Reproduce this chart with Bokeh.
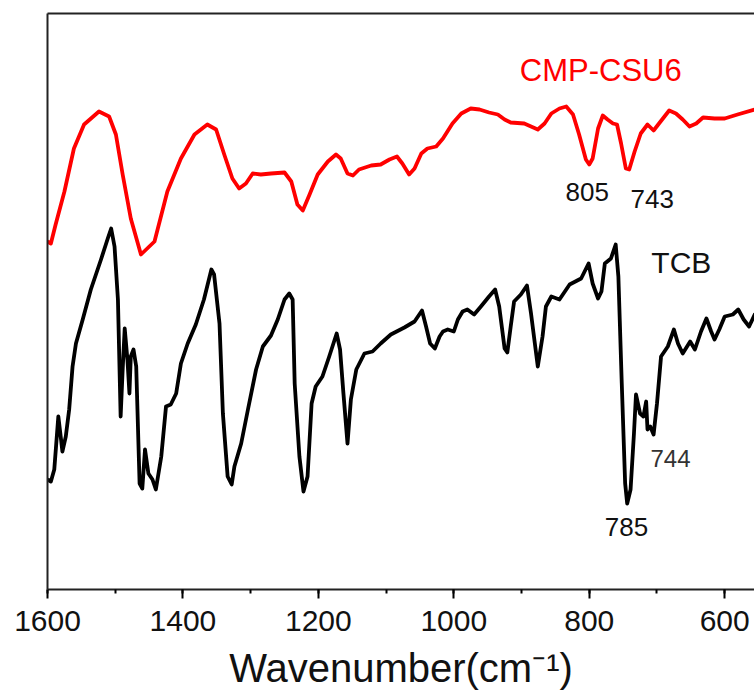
from bokeh.plotting import figure
from bokeh.models import Range1d, LinearAxis, SingleIntervalTicker, FixedTicker, Label
from bokeh.embed import file_html
from bokeh.resources import INLINE

# CMP-CSU6 spectrum (wavenumber, transmittance a.u.)
red_wn = [1600, 1595, 1588, 1575, 1561, 1546, 1524, 1509, 1499, 1489, 1477, 1462, 1442, 1423, 1403,
          1383, 1364, 1351, 1339, 1327, 1317, 1307, 1297, 1285, 1270, 1250, 1240, 1231, 1223, 1213,
          1201, 1186, 1174, 1167, 1157, 1149, 1140, 1122, 1108, 1095, 1084, 1076, 1066, 1058, 1048,
          1039, 1026, 1016, 1002, 989, 975, 962, 948, 935, 925, 916, 896, 886, 876, 866, 856, 844,
          834, 824, 815, 805, 800, 795, 787, 780, 773, 765, 759, 753, 746, 741, 733, 724, 714, 705,
          697, 682, 672, 662, 652, 642, 632, 615, 600, 581, 556]
red_t = [348, 346, 365, 398, 441, 465, 478, 473, 455, 415, 371, 335, 348, 398, 431,
         455, 465, 460, 435, 411, 401, 406, 416, 415, 416, 417, 408, 385, 379, 395,
         415, 428, 435, 431, 416, 414, 420, 424, 425, 430, 433, 426, 415, 421, 436,
         441, 443, 451, 466, 476, 481, 480, 477, 475, 470, 467, 466, 463, 460, 466, 476, 481,
         483, 475, 455, 430, 425, 431, 461, 474, 470, 466, 465, 446, 421, 420, 438, 456, 465, 459,
         466, 479, 476, 470, 463, 466, 472, 471, 471, 475, 480]

# TCB spectrum
tcb_wn = [1600, 1595, 1590, 1584, 1580, 1578, 1573, 1568, 1563, 1558, 1548, 1536, 1521, 1511, 1506,
          1501, 1496, 1492, 1489, 1486, 1482, 1479, 1477, 1473, 1469, 1464, 1460, 1456, 1451, 1445,
          1440, 1432, 1425, 1418, 1410, 1403, 1393, 1381, 1369, 1358, 1354, 1346, 1341, 1334, 1328,
          1324, 1314, 1304, 1292, 1282, 1270, 1260, 1250, 1243, 1238, 1235, 1228, 1222, 1216, 1210,
          1204, 1194, 1184, 1173, 1168, 1163, 1157, 1152, 1144, 1132, 1120, 1108, 1093, 1073, 1058,
          1047, 1041, 1035, 1028, 1021, 1016, 1009, 1000, 994, 987, 980, 970, 960, 948, 939,
          933, 925, 921, 916, 911, 901, 892, 886, 876, 869, 864, 856, 844, 829, 812,
          801, 795, 787, 782, 777, 768, 761, 757, 752, 747, 744, 739, 734, 731, 725,
          720, 716, 714, 710, 705, 700, 694, 684, 675, 669, 662, 651, 644, 635, 627,
          620, 615, 608, 600, 588, 580, 572, 564, 555]
tcb_t = [110, 108, 120, 173, 150, 138, 153, 180, 223, 246, 270, 300, 330, 351, 361,
         343, 290, 173, 220, 261, 230, 196, 233, 240, 223, 106, 101, 140, 116, 110,
         100, 133, 183, 185, 196, 226, 246, 265, 290, 320, 315, 266, 176, 113, 105,
         123, 146, 180, 220, 243, 254, 270, 290, 296, 290, 206, 133, 98, 113, 186,
         203, 213, 233, 256, 240, 196, 146, 190, 220, 236, 238, 246, 255, 262, 268,
         279, 263, 246, 241, 253, 258, 260, 258, 270, 278, 280, 275, 283, 293, 300,
         283, 241, 237, 263, 288, 295, 304, 276, 223, 253, 283, 293, 290, 305, 311,
         326, 306, 291, 298, 326, 331, 345, 313, 206, 106, 86, 100, 156, 195, 176,
         173, 188, 160, 163, 155, 186, 233, 243, 260, 246, 236, 248, 240, 258, 271,
         258, 250, 260, 273, 275, 280, 270, 263, 276]

# annotations: text, wavenumber, a.u.
annotations = [
    ("CMP-CSU6", 783, 519, "#ff0000", "31px"),
    ("805", 803, 398, "#111111", "26px"),
    ("743", 707, 391, "#111111", "26px"),
    ("TCB", 664, 327, "#111111", "30px"),
    ("744", 680, 131, "#333333", "24px"),
    ("785", 745, 63, "#111111", "26px"),
]

FONT = "Liberation Sans"

p = figure(frame_width=707, frame_height=576, output_backend="svg", toolbar_location=None,
           x_range=Range1d(1600, 556), y_range=Range1d(0, 576),
           min_border_left=47, min_border_right=0, min_border_top=13, min_border_bottom=0)
p.background_fill_color = "white"
p.border_fill_color = "white"
p.outline_line_color = None
p.xgrid.visible = False
p.ygrid.visible = False

p.line(red_wn, red_t, line_color="#ff0000", line_width=3.8, line_join="round")
p.line(tcb_wn, tcb_t, line_color="black", line_width=3.8, line_join="round")

xa = p.xaxis[0]
xa.ticker = SingleIntervalTicker(interval=200, num_minor_ticks=2)
xa.axis_line_width = 2
xa.axis_line_color = "#222222"
xa.major_tick_out = 9
xa.major_tick_in = 0
xa.minor_tick_out = 4
xa.minor_tick_in = 0
xa.major_tick_line_width = 2
xa.minor_tick_line_width = 2
xa.major_label_text_font = FONT
xa.major_label_text_font_size = "30px"
xa.major_label_text_color = "#111111"
xa.major_label_standoff = 12
xa.axis_label = "Wavenumber(cm\u207b\u00b9)"
xa.axis_label_text_font = FONT
xa.axis_label_text_font_size = "40px"
xa.axis_label_text_font_style = "normal"
xa.axis_label_text_color = "#111111"
xa.axis_label_standoff = 12

ya = p.yaxis[0]
ya.ticker = FixedTicker(ticks=[])
ya.axis_line_width = 2
ya.axis_line_color = "#222222"
ya.major_tick_line_color = None
ya.minor_tick_line_color = None
ya.major_label_standoff = 0

top = LinearAxis(ticker=FixedTicker(ticks=[]), axis_line_width=2, axis_line_color="#222222",
                 major_tick_line_color=None, minor_tick_line_color=None, major_label_standoff=0)
p.add_layout(top, "above")

for txt, x, y, col, size in annotations:
    p.add_layout(Label(x=x, y=y, text=txt, text_color=col, text_font=FONT, text_font_size=size,
                       text_align="center", text_baseline="middle"))

open("out.html", "w").write(file_html(p, INLINE))
